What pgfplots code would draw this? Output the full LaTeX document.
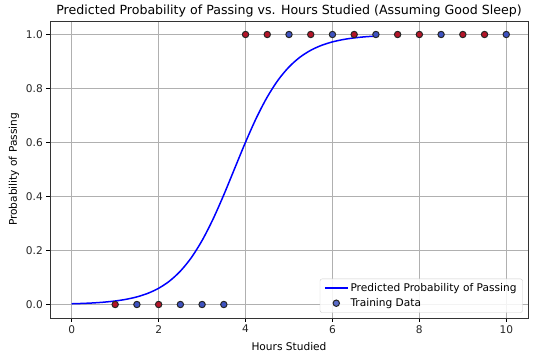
\documentclass[border=0pt]{standalone}
\usepackage{pgfplots}
\pgfplotsset{compat=1.18}
\usepackage{fontspec}
\setmainfont{DejaVu Sans}
\definecolor{cwred}{RGB}{180,20,40}
\definecolor{cwblue}{RGB}{62,82,192}
\definecolor{gridgray}{RGB}{176,176,176}
\pgfplotsset{
  /pgfplots/layers/mylayers/.define layer set={axis background,axis grid,axis ticks,axis lines,axis tick labels,main,axis descriptions,axis foreground}{},
  linelegend/.style={legend image code/.code={\draw[##1] (0pt,0pt) -- (23pt,0pt);}},
  marklegend/.style={legend image code/.code={\draw[##1] plot coordinates {(11.5pt,0pt)};}},
  every axis title shift=0pt,
}
\begin{document}
\begin{tikzpicture}
\begin{axis}[
  name=ax,
  set layers=mylayers,
  scale only axis,
  width=478pt, height=297pt,
  xmin=-0.5, xmax=10.5, ymin=-0.05, ymax=1.05,
  xtick={0,2,4,6,8,10},
  ytick={0,0.2,0.4,0.6,0.8,1.0},
  yticklabel style={/pgf/number format/.cd,fixed,fixed zerofill,precision=1},
  /pgf/number format/assume math mode=true,
  ticklabel style={font=\fontsize{10.6}{12.7}\selectfont, color=black!85},
  tick align=outside,
  tick style={black, line width=0.85pt},
  major tick length=3.7pt,
  xtick pos=bottom, ytick pos=left,
  grid=major,
  major grid style={gridgray, line width=0.85pt},
  axis line style={black!80, line width=0.85pt},
  title={Predicted Probability of Passing vs. Hours Studied (Assuming Good Sleep)},
  title style={font=\fontsize{12.6}{15}\selectfont, at={(axis description cs:0.5,1)}, anchor=base, inner sep=0pt, yshift=6.4pt},
  xlabel={Hours Studied},
  ylabel={Probability of Passing},
  label style={font=\fontsize{10.6}{12.7}\selectfont},
  xlabel style={at={([yshift=-32pt]axis description cs:0.5,0)}, anchor=base, inner sep=0pt},
  ylabel style={at={([xshift=-33pt]axis description cs:0,0.5)}, anchor=base, inner sep=0pt},
  legend style={font=\fontsize{10.6}{12.7}\selectfont, draw=black!20, rounded corners=2pt, fill=white, fill opacity=0.85, text opacity=1, draw opacity=1, row sep=1.5pt, inner xsep=4pt, inner ysep=2.5pt, at={([xshift=-5.3pt,yshift=5.3pt]axis description cs:1,0)}, anchor=south east},
  legend cell align=left,
]
\addplot[blue, line width=1.5pt, smooth, linelegend] coordinates {
(0,0.0027)(0.25,0.0040)(0.5,0.0059)(0.75,0.0088)(1.0,0.0130)(1.25,0.0192)(1.5,0.0282)(1.75,0.0413)
(2.0,0.0601)(2.25,0.0867)(2.5,0.1236)(2.75,0.1730)(3.0,0.2370)(3.25,0.3156)(3.5,0.4063)(3.75,0.5040)
(4.0,0.6013)(4.25,0.6913)(4.5,0.7687)(4.75,0.8315)(5.0,0.8798)(5.25,0.9157)(5.5,0.9416)(5.75,0.9599)
(6.0,0.9726)(6.25,0.9814)(6.5,0.9874)(6.75,0.9915)(7.0,0.9942)
};
\addlegendentry{Predicted Probability of Passing}
\addplot[forget plot, on layer=axis background, only marks, mark=*, mark size=3.2pt, mark options={draw=black!85, line width=1pt},
  scatter, point meta=explicit symbolic,
  scatter/classes={r={fill=cwred}, b={fill=cwblue}}]
  table[meta=c] {
x y c
1 0 r
1.5 0 b
2 0 r
2.5 0 b
3 0 b
3.5 0 b
4 1 r
4.5 1 r
5 1 b
5.5 1 r
6 1 b
6.5 1 r
7 1 b
7.5 1 r
8 1 r
8.5 1 b
9 1 r
9.5 1 r
10 1 b
};
\addlegendimage{only marks, mark=*, mark size=3.2pt, mark options={draw=black!85, fill=cwblue, line width=1pt}, marklegend}
\addlegendentry{Training Data}
\end{axis}
\pgfresetboundingbox
\useasboundingbox ([xshift=-50pt,yshift=-44pt]ax.south west) rectangle ([xshift=27pt,yshift=21pt]ax.north east);
\end{tikzpicture}
\end{document}
